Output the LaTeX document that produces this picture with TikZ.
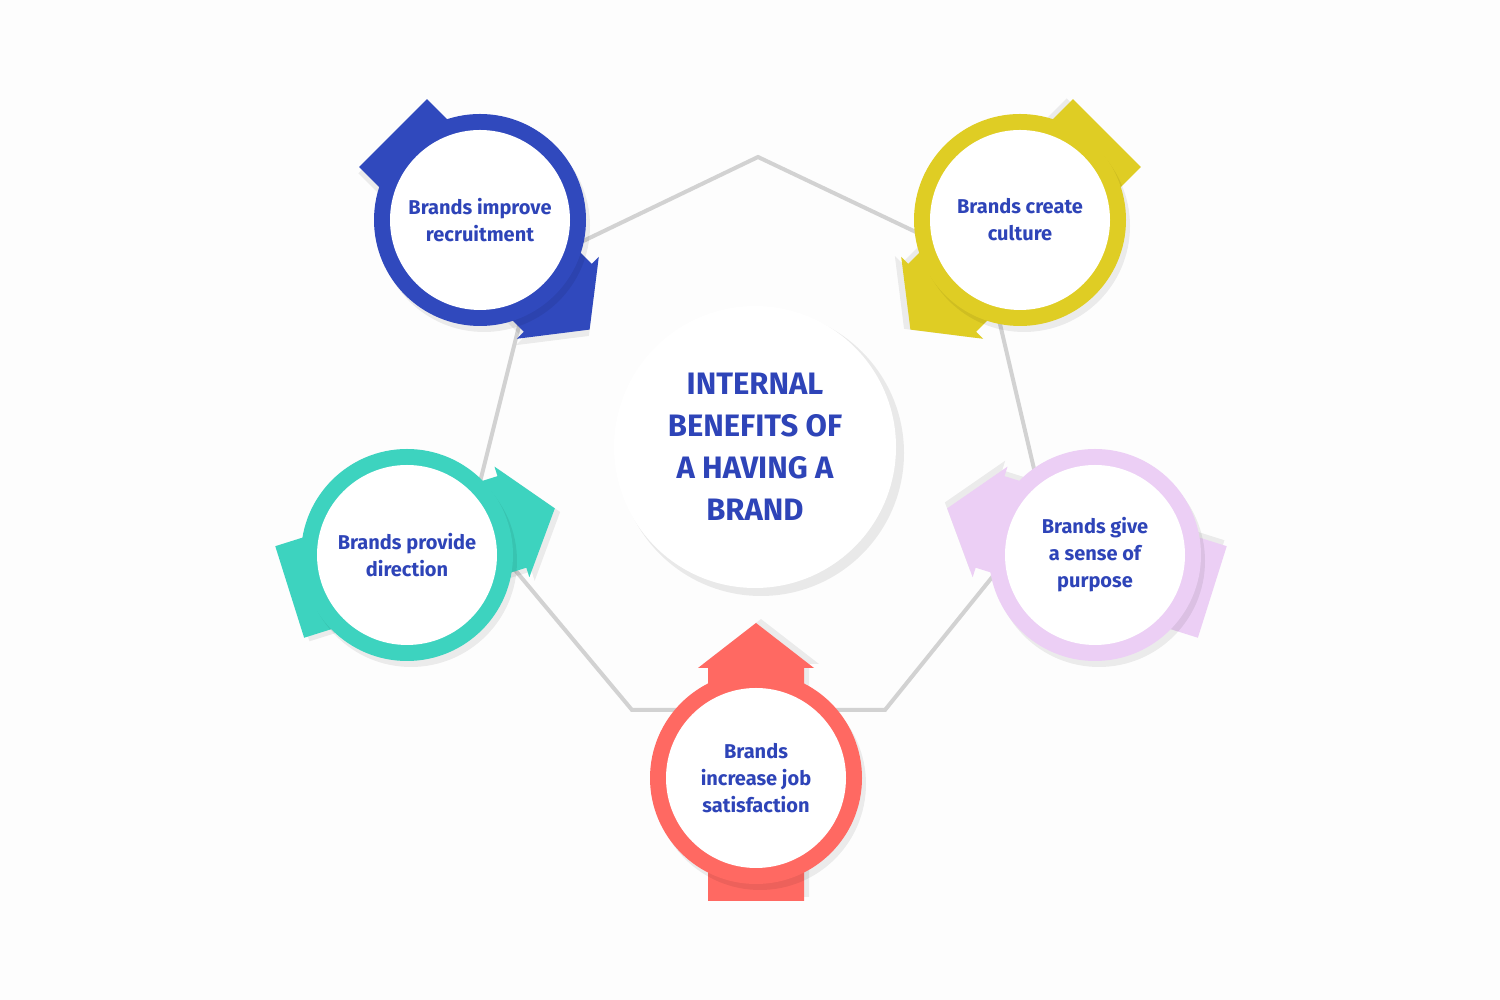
\documentclass[tikz,border=0pt]{standalone}
\usepackage{fontspec}
\setmainfont{Fira Sans}
\definecolor{txt}{HTML}{2E44B8}
\definecolor{cblue}{HTML}{3049BD}
\definecolor{cyellow}{HTML}{DFCD24}
\definecolor{cteal}{HTML}{3DD3BF}
\definecolor{cpink}{HTML}{ECCFF5}
\definecolor{cred}{HTML}{FF6962}
\definecolor{lgray}{HTML}{D2D2D2}
\definecolor{bg}{HTML}{FDFDFD}
\tikzset{
  link/.style={draw=lgray,line width=4pt},
  lbl/.style={text=txt,font=\fontsize{20}{27}\selectfont\bfseries,align=center},
  shad/.style={fill=black,opacity=0.07},
}
\newcommand\benefit[6]{%
  \begin{scope}[shift={(#2,#3)},rotate=#4]
    \fill[shad,shift={(4,-5)}] (-123,-48) -- (110,-48) -- (110,-58) -- (155,0) -- (110,58) -- (110,48) -- (-123,48) -- cycle;
    \fill[#5] (-123,-48) -- (110,-48) -- (110,-58) -- (155,0) -- (110,58) -- (110,48) -- (-123,48) -- cycle;
  \end{scope}
  \fill[shad] (#2+4,#3-6) circle (106);
  \fill[#5] (#2,#3) circle (106);
  \node[circle,fill=white,minimum size=180pt,inner sep=0pt] (#1) at (#2,#3) {};
  \node[lbl] at (#1) {#6};
}
\begin{document}
\begin{tikzpicture}[x=1pt,y=1pt]
\useasboundingbox (0,0) rectangle (1500,1000);
\fill[bg] (0,0) rectangle (1500,1000);
% links
\coordinate (top) at (758,843);
\coordinate (br) at (885,290);
\coordinate (bl) at (632,290);
\draw[link] (500,719) -- (top) -- (1000,728);
\draw[link] (992,710) -- (1046,480);
\draw[link] (1010,445) -- (br) -- (bl) -- (490,460);
\draw[link] (473,490) -- (528,710);
% center
\fill[black,opacity=0.08] (761,547) circle (143);
\node[circle,fill=white,minimum size=282pt,inner sep=0pt] (c) at (755,553) {};
\node[text=txt,font=\fontsize{31}{42}\selectfont\bfseries,align=center] at (c) {INTERNAL\\BENEFITS OF\\A HAVING A\\BRAND};
\benefit{b1}{480}{780}{-45}{cblue}{Brands improve\\recruitment}
\benefit{b2}{1020}{780}{-135}{cyellow}{Brands create\\culture}
\benefit{b3}{407}{445}{17.5}{cteal}{Brands provide\\direction}
\benefit{b4}{1095}{445}{162.5}{cpink}{Brands give\\a sense of\\purpose}
\benefit{b5}{756}{222}{90}{cred}{Brands\\increase job\\satisfaction}
\end{tikzpicture}
\end{document}
